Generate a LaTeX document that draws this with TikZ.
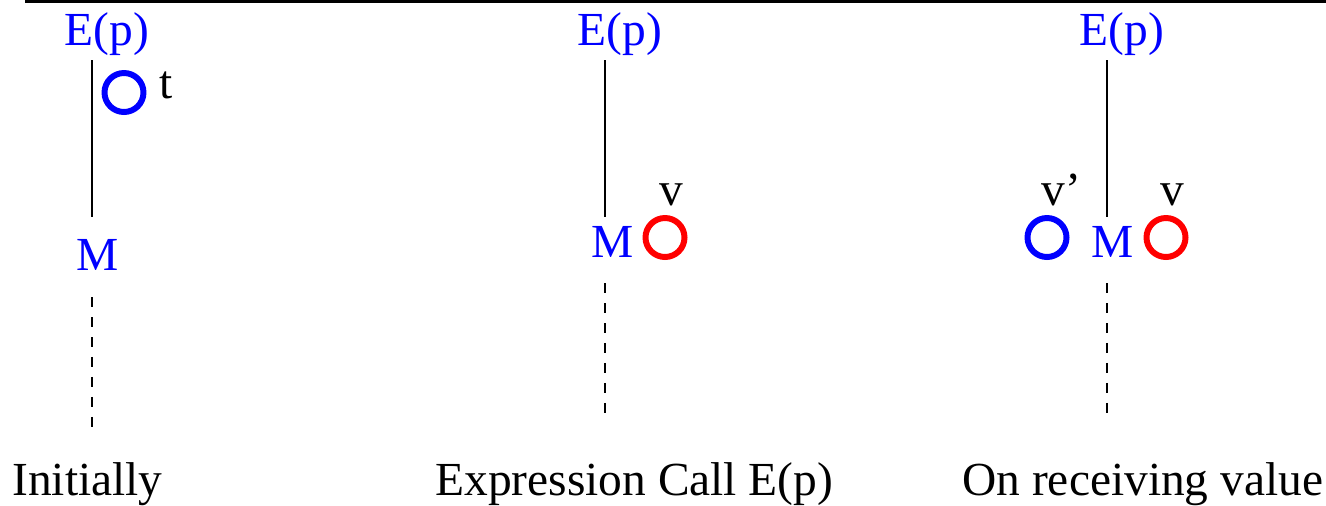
\documentclass[tikz,border=0pt]{standalone}
\usepackage{fontspec}
\setmainfont{Liberation Serif}
\usetikzlibrary{positioning}
\tikzset{
	lbl/.style  = {inner sep=0pt,anchor=base,font=\fontsize{27}{32}\selectfont},
	proc/.style = {lbl,text=blue},
	tok/.style  = {circle,draw=#1,line width=3.4pt,minimum size=0.78cm,inner sep=0pt},
	life/.style = {line width=0.6pt},
	wait/.style = {line width=0.6pt,dash pattern=on 0.2cm off 0.2cm},
}

\begin{document}
\begin{tikzpicture}[x=0.02cm,y=-0.02cm]
		\useasboundingbox (0,0) rectangle (1326,505);
		\draw[line width=1.5pt] (25,1.4) -- (1326,1.4);
		
		%% Panel 1
		\node (ep1) [proc] at (107,45)  {E(p)};
		\node (m1)  [proc] at (98,270)  {M};
		\node (t1)  [tok=blue] at (124,92.5) {};
		\node (tl)  [lbl,anchor=base west] at (159,98) {t};
		\coordinate (a1) at (92,60);  \coordinate (b1) at (92,217);
		\coordinate (c1) at (92,297); \coordinate (d1) at (92,428);
		\node (cap1) [lbl,anchor=base west] at (12,495) {Initially};
		
		%% Panel 2
		\node (ep2) [proc] at (620,45)  {E(p)};
		\node (m2)  [proc] at (613,257) {M};
		\node (v2)  [tok=red] at (665,237.5) {};
		\node (vl2) [lbl] at (671,205) {v};
		\coordinate (a2) at (605,60);  \coordinate (b2) at (605,217);
		\coordinate (c2) at (605,283); \coordinate (d2) at (605,415);
		\node (cap2) [lbl,anchor=base west] at (435,495) {Expression Call E(p)};
		
		%% Panel 3
		\node (ep3) [proc] at (1122,45)  {E(p)};
		\node (m3)  [proc] at (1113,257) {M};
		\node (w3)  [tok=blue] at (1047,237.5) {};
		\node (v3)  [tok=red]  at (1166,237.5) {};
		\node (wl3) [lbl,anchor=base west] at (1041,205) {v'};
		\node (vl3) [lbl] at (1172,205) {v};
		\coordinate (a3) at (1107,60);  \coordinate (b3) at (1107,217);
		\coordinate (c3) at (1107,283); \coordinate (d3) at (1107,415);
		\node (cap3) [lbl,anchor=base west] at (962,495) {On receiving value};
		
		%% Lignes de vie
		\foreach \i in {1,2,3} {
			\draw[life] (a\i) -- (b\i);
			\draw[wait] (c\i) -- (d\i);
		}
	\end{tikzpicture}
\end{document}
